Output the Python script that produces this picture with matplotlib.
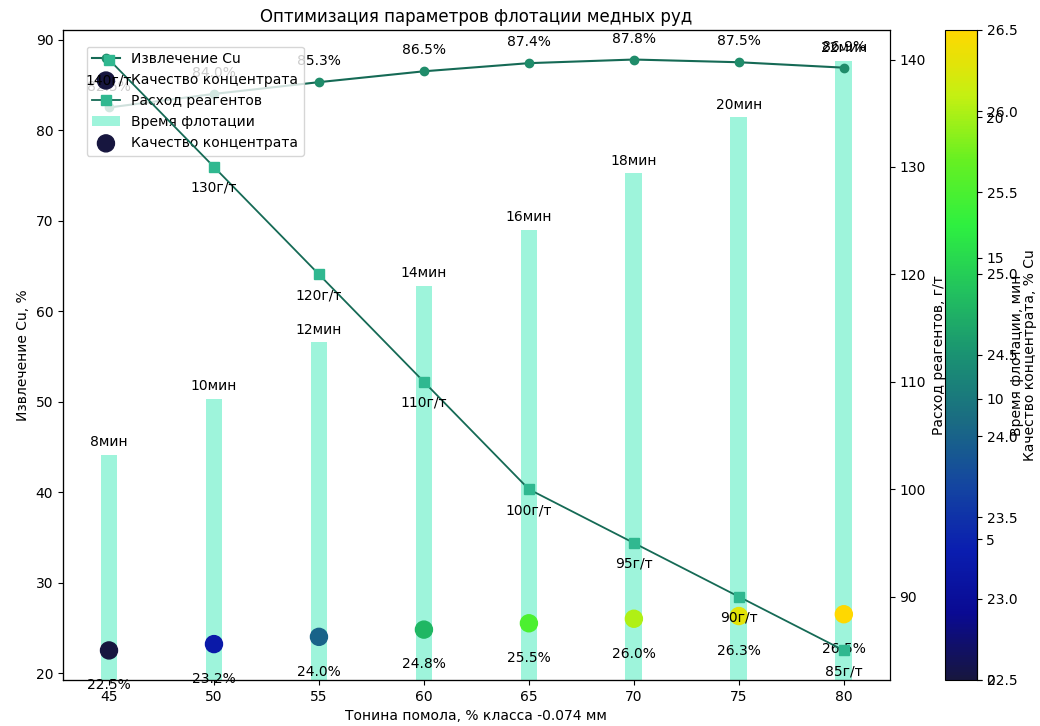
import matplotlib
matplotlib.use("Agg")
import matplotlib.pyplot as plt
from matplotlib.colors import LinearSegmentedColormap

# data
fineness = [45, 50, 55, 60, 65, 70, 75, 80]
recovery = [82.5, 84.0, 85.3, 86.5, 87.4, 87.8, 87.5, 86.9]
quality = [22.5, 23.2, 24.0, 24.8, 25.5, 26.0, 26.3, 26.5]
reagent = [140, 130, 120, 110, 100, 95, 90, 85]
flot_time = [8, 10, 12, 14, 16, 18, 20, 22]

cmap = LinearSegmentedColormap.from_list("q", [
    "#17163f", "#0a0a92", "#0a1eb0", "#1446a0", "#1a6c82",
    "#1a9272", "#22c25e", "#2ef040", "#66f022", "#c4f012", "#ffd800"])

fig = plt.figure(figsize=(10.4, 7.26), dpi=100)
ax1 = fig.add_axes([0.0606, 0.0634, 0.795, 0.8953])
cax = fig.add_axes([0.9087, 0.0634, 0.0308, 0.8953])

# recovery + quality on main axis
l1, = ax1.plot(fineness, recovery, "-o", color="#156a55", lw=1.5,
               markerfacecolor="#1f8c6a", markeredgecolor="#1f8c6a", ms=6,
               label="Извлечение Cu")
sc = ax1.scatter(fineness, quality, c=quality, cmap=cmap, vmin=22.5, vmax=26.5,
                 s=150, zorder=5, label="Качество концентрата")
for x, v in zip(fineness, recovery):
    ax1.annotate(f"{v}%", (x, v), xytext=(0, 10), textcoords="offset points",
                 ha="center", va="bottom", fontsize=10)
for x, v in zip(fineness, quality):
    ax1.annotate(f"{v}%", (x, v), xytext=(0, -20), textcoords="offset points",
                 ha="center", va="top", fontsize=10)
ax1.set_xlabel("Тонина помола, % класса -0.074 мм")
ax1.set_ylabel("Извлечение Cu, %")
ax1.set_xticks(fineness)
ax1.set_title("Оптимизация параметров флотации медных руд", fontsize=12)

# reagent consumption
ax2 = ax1.twinx()
l2, = ax2.plot(fineness, reagent, "-s", color="#156a55", lw=1.3,
               markerfacecolor="#30b890", markeredgecolor="#30b890", ms=7,
               label="Расход реагентов")
for x, v in zip(fineness, reagent):
    ax2.annotate(f"{v}г/т", (x, v), xytext=(0, -10), textcoords="offset points",
                 ha="center", va="top", fontsize=10)
ax2.set_ylabel("Расход реагентов, г/т")

# flotation time bars (kept behind the lines and points)
ax3 = ax1.twinx()
ax3.spines["right"].set_position(("axes", 1.105))
bars = ax3.bar(fineness, flot_time, width=0.8, color="#5eeec4", alpha=0.6,
               label="Время флотации")
for x, v in zip(fineness, flot_time):
    ax3.text(x, v + 0.2, f"{v}мин", ha="center", va="bottom", fontsize=10)
ax3.set_ylabel("Время флотации, мин")

ax3.set_zorder(0)
ax1.set_zorder(1)
ax2.set_zorder(2)
ax1.patch.set_visible(False)
ax2.patch.set_visible(False)

cb = fig.colorbar(sc, cax=cax)
cb.set_label("Качество концентрата, % Cu")

ax1.legend([l1, sc, l2, bars, sc],
           ["Извлечение Cu", "Качество концентрата", "Расход реагентов",
            "Время флотации", "Качество концентрата"],
           loc="upper left", bbox_to_anchor=(0.02, 0.985), fontsize=10)

fig.savefig("out.png", dpi=100)
